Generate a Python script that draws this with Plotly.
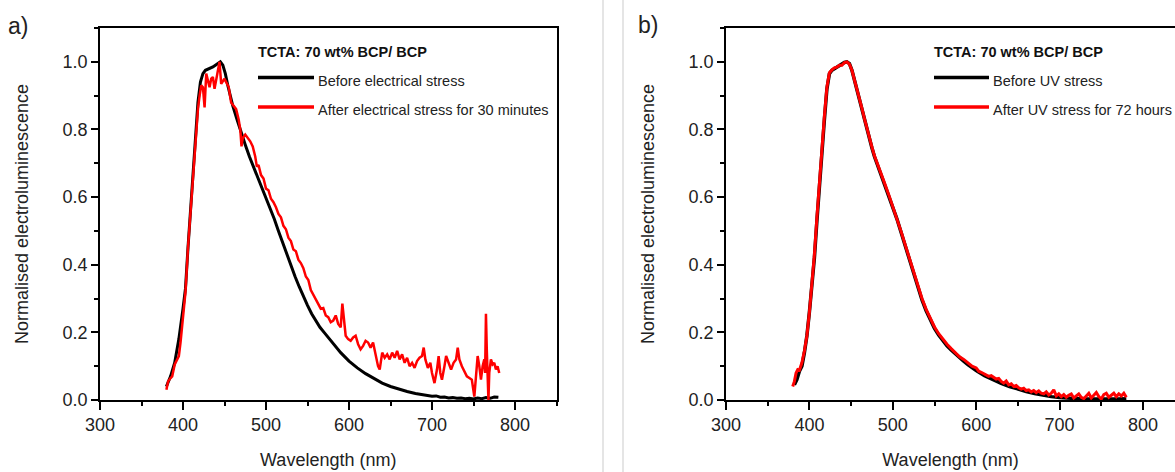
import plotly.graph_objects as go

# ---------------- data ----------------
# Panel a: TCTA:70 wt% BCP / BCP, electrical stress
wl_a_before = [380, 385, 390, 395, 400, 403, 406, 409, 412, 415, 418, 421, 424, 427, 430, 433, 436, 439,
               442, 445, 448, 451, 454, 457, 460, 465, 470, 475, 480, 485, 490, 495, 500, 505, 510, 515,
               520, 525, 530, 535, 540, 545, 550, 555, 560, 565, 570, 575, 580, 590, 600, 610, 620, 630,
               640, 650, 660, 670, 680, 690, 700, 705, 710, 715, 720, 725, 730, 735, 740, 745, 750, 755,
               760, 765, 770, 775, 780]
el_a_before = [0.04, 0.07, 0.11, 0.18, 0.27, 0.33, 0.45, 0.56, 0.66, 0.77, 0.88, 0.94, 0.965, 0.975, 0.978,
               0.982, 0.985, 0.99, 0.995, 1.0, 0.99, 0.965, 0.93, 0.90, 0.87, 0.83, 0.79, 0.755, 0.72, 0.69,
               0.66, 0.625, 0.595, 0.565, 0.535, 0.50, 0.465, 0.43, 0.40, 0.365, 0.335, 0.305, 0.28, 0.255,
               0.235, 0.215, 0.20, 0.185, 0.17, 0.14, 0.115, 0.095, 0.078, 0.063, 0.05, 0.04, 0.032, 0.025,
               0.019, 0.014, 0.011, 0.012, 0.008, 0.009, 0.006, 0.007, 0.005, 0.006, 0.004, 0.005, 0.003,
               0.006, 0.004, 0.007, 0.005, 0.009, 0.008]

wl_a_after = [380, 382, 385, 387, 390, 392, 395, 397, 400, 403, 406, 409, 412, 415, 418, 420, 422, 424, 426,
              428, 430, 432, 434, 436, 438, 440, 442, 444, 446, 448, 450, 452, 455, 458, 461, 464, 467, 469,
              470.5, 472, 475, 478, 481, 484, 487, 489, 491, 494, 497, 500, 503, 506, 509, 512, 515, 518,
              521, 524, 527, 530, 533, 536, 539, 542, 545, 548, 551, 554, 557, 560, 563, 566, 569, 572, 575,
              578, 581, 584, 587, 590, 592, 594, 596, 599, 602, 605, 608, 611, 614, 617, 620, 623, 626, 629,
              632, 635, 637, 640, 643, 646, 649, 652, 655, 658, 661, 664, 667, 670, 673, 676, 679, 682, 685,
              688, 690, 692, 695, 698, 700, 703, 706, 708, 710, 712, 715, 717, 720, 723, 726, 729, 731, 733,
              736, 739, 742, 745, 748, 751, 753, 755, 757, 759, 761, 763, 764, 765, 766, 767, 768, 769, 771,
              773, 775, 777, 779, 781]
el_a_after = [0.03, 0.055, 0.065, 0.07, 0.105, 0.115, 0.13, 0.17, 0.25, 0.32, 0.45, 0.56, 0.67, 0.77, 0.86,
              0.90, 0.93, 0.925, 0.865, 0.965, 0.94, 0.925, 0.95, 0.955, 0.92, 0.95, 0.975, 1.0, 0.935, 0.945,
              0.95, 0.94, 0.926, 0.88, 0.87, 0.86, 0.83, 0.80, 0.75, 0.775, 0.785, 0.776, 0.765, 0.75, 0.72,
              0.69, 0.695, 0.665, 0.655, 0.625, 0.62, 0.595, 0.585, 0.57, 0.55, 0.54, 0.515, 0.505, 0.48, 0.47,
              0.445, 0.44, 0.415, 0.405, 0.39, 0.365, 0.355, 0.325, 0.31, 0.295, 0.28, 0.27, 0.272, 0.25, 0.245,
              0.23, 0.235, 0.25, 0.225, 0.215, 0.285, 0.23, 0.19, 0.18, 0.175, 0.185, 0.19, 0.165, 0.15, 0.16,
              0.175, 0.17, 0.155, 0.17, 0.13, 0.10, 0.09, 0.14, 0.125, 0.135, 0.12, 0.14, 0.125, 0.145, 0.12,
              0.135, 0.11, 0.125, 0.10, 0.11, 0.095, 0.115, 0.125, 0.13, 0.155, 0.12, 0.095, 0.11, 0.08, 0.05,
              0.09, 0.13, 0.08, 0.06, 0.10, 0.13, 0.11, 0.09, 0.11, 0.12, 0.155, 0.12, 0.10, 0.085, 0.07, 0.065,
              0.06, 0.01, 0.08, 0.13, 0.10, 0.06, 0.10, 0.12, 0.08, 0.255, 0.15, 0.02, 0.0, 0.08, 0.12, 0.105,
              0.11, 0.09, 0.10, 0.08]

# Panel b: UV stress
wl_b_before = [382, 385, 388, 391, 394, 397, 400, 403, 406, 409, 412, 415, 418, 421, 424, 427, 430, 433, 436,
               439, 442, 445, 448, 451, 454, 457, 460, 463, 466, 469, 472, 475, 478, 481, 484, 487, 490, 495,
               500, 505, 510, 515, 520, 525, 530, 535, 540, 545, 550, 555, 560, 565, 570, 575, 580, 585, 590,
               595, 600, 610, 620, 630, 640, 650, 660, 670, 680, 690, 700, 710, 720, 730, 740, 750, 760, 770,
               780]
el_b_before = [0.045, 0.06, 0.085, 0.10, 0.14, 0.19, 0.26, 0.33, 0.42, 0.53, 0.64, 0.74, 0.83, 0.92, 0.965,
               0.975, 0.98, 0.985, 0.99, 0.992, 0.998, 1.0, 0.995, 0.975, 0.945, 0.915, 0.885, 0.86, 0.83,
               0.80, 0.775, 0.745, 0.72, 0.70, 0.68, 0.66, 0.64, 0.605, 0.57, 0.535, 0.495, 0.455, 0.415,
               0.372, 0.332, 0.296, 0.264, 0.236, 0.212, 0.192, 0.175, 0.16, 0.148, 0.136, 0.125, 0.115, 0.105,
               0.095, 0.087, 0.072, 0.06, 0.049, 0.04, 0.032, 0.025, 0.019, 0.014, 0.01, 0.007, 0.005, 0.004,
               0.003, 0.003, 0.002, 0.003, 0.003, 0.004]

wl_b_after = [380, 382, 384, 386, 388, 391, 394, 397, 400, 403, 406, 409, 412, 415, 418, 421, 424, 427, 430,
              433, 436, 439, 442, 445, 448, 451, 454, 457, 460, 463, 466, 469, 472, 475, 478, 481, 484, 487,
              490, 495, 500, 505, 510, 515, 520, 525, 530, 535, 540, 545, 550, 555, 560, 565, 570, 575, 580,
              585, 590, 595, 600, 603, 606, 609, 612, 615, 618, 621, 624, 627, 630, 633, 636, 639, 642, 645,
              648, 651, 654, 657, 660, 663, 666, 669, 672, 675, 678, 681, 684, 687, 690, 693, 696, 699, 702,
              705, 708, 711, 714, 717, 720, 723, 726, 729, 732, 735, 738, 741, 744, 747, 750, 753, 756, 759,
              762, 765, 768, 771, 774, 777, 780]
el_b_after = [0.04, 0.055, 0.08, 0.09, 0.088, 0.11, 0.145, 0.19, 0.26, 0.335, 0.43, 0.54, 0.65, 0.75, 0.84,
              0.925, 0.968, 0.976, 0.982, 0.984, 0.99, 0.99, 0.998, 1.0, 0.993, 0.975, 0.948, 0.918, 0.888,
              0.862, 0.832, 0.802, 0.778, 0.748, 0.722, 0.703, 0.682, 0.662, 0.642, 0.608, 0.572, 0.538,
              0.498, 0.458, 0.418, 0.376, 0.336, 0.3, 0.268, 0.242, 0.216, 0.196, 0.18, 0.165, 0.152, 0.14,
              0.128, 0.12, 0.11, 0.10, 0.095, 0.085, 0.082, 0.078, 0.075, 0.07, 0.072, 0.066, 0.062, 0.064,
              0.055, 0.05, 0.056, 0.045, 0.048, 0.04, 0.043, 0.036, 0.032, 0.035, 0.028, 0.03, 0.024, 0.028,
              0.022, 0.027, 0.02, 0.018, 0.024, 0.015, 0.02, 0.03, 0.012, 0.018, 0.01, 0.016, 0.008, 0.014,
              0.018, 0.006, 0.012, 0.018, 0.008, 0.004, 0.012, 0.02, 0.006, 0.014, 0.022, 0.01, 0.003, 0.016,
              0.02, 0.008, 0.015, 0.02, 0.01, 0.018, 0.012, 0.02, 0.008]

legend_title = "TCTA: 70 wt% BCP/ BCP"
legend_a = ["Before electrical stress", "After electrical stress for 30 minutes"]
legend_b = ["Before UV stress", "After UV stress for 72 hours"]
panel_labels = ["a)", "b)"]
x_title = "Wavelength (nm)"
y_title = "Normalised electroluminescence"

# ---------------- figure ----------------
W, H = 1175, 472
FONT = "Liberation Sans, Arial, sans-serif"
BLACK, RED = "#000000", "#ff0000"

fig = go.Figure()
fig.add_trace(go.Scatter(x=wl_a_before, y=el_a_before, mode="lines", name=legend_a[0],
                         line=dict(color=BLACK, width=3), xaxis="x", yaxis="y"))
fig.add_trace(go.Scatter(x=wl_a_after, y=el_a_after, mode="lines", name=legend_a[1],
                         line=dict(color=RED, width=2.5), xaxis="x", yaxis="y"))
fig.add_trace(go.Scatter(x=wl_b_before, y=el_b_before, mode="lines", name=legend_b[0],
                         line=dict(color=BLACK, width=3.5), xaxis="x2", yaxis="y2"))
fig.add_trace(go.Scatter(x=wl_b_after, y=el_b_after, mode="lines", name=legend_b[1],
                         line=dict(color=RED, width=3), xaxis="x2", yaxis="y2"))

ydom = [72 / H, 444 / H]
axis_common = dict(showline=True, linecolor=BLACK, linewidth=1.5, ticks="outside", tickcolor=BLACK,
                   tickwidth=1.5, showgrid=False, zeroline=False, automargin=False,
                   tickfont=dict(family=FONT, size=18, color="#222"))

xa = dict(axis_common, range=[300, 850], dtick=100, tick0=0, ticklen=8,
          minor=dict(ticks="outside", ticklen=4.5, dtick=50, tickwidth=1.5, tickcolor=BLACK),
          title=dict(text=x_title, font=dict(family=FONT, size=18, color="#222"), standoff=19))
ya = dict(axis_common, range=[0, 1.1], dtick=0.2, tick0=0, tickformat=".1f", ticklen=7,
          minor=dict(ticks="outside", ticklen=4, dtick=0.1, tickwidth=1.5, tickcolor=BLACK),
          title=dict(text=y_title, font=dict(family=FONT, size=18, color="#222"), standoff=29),
          domain=ydom)

fig.update_layout(
    width=W, height=H,
    margin=dict(l=0, r=0, t=0, b=0),
    paper_bgcolor="white", plot_bgcolor="white",
    showlegend=False,
    font=dict(family=FONT, color="#222"),
    xaxis=dict(xa, domain=[100 / W, 556.5 / W], anchor="y", mirror=True),
    yaxis=dict(ya, anchor="x", mirror=True),
    xaxis2=dict(xa, domain=[726 / W, 1.0], range=[300, 300 + (W - 726) / 0.834], anchor="y2", mirror=True),
    yaxis2=dict(ya, anchor="x2", mirror=False),
)

def fx(px):
    return px / W

def fy(py):
    return 1 - py / H

shapes = []
annotations = []
# separators between panels
for sx in (603, 623):
    shapes.append(dict(type="line", xref="paper", yref="paper", x0=fx(sx), x1=fx(sx), y0=0, y1=1,
                       line=dict(color="#dddddd", width=1.5)))

# panel labels
annotations.append(dict(text=panel_labels[0], x=fx(6), y=fy(26), xref="paper", yref="paper",
                        xanchor="left", yanchor="middle", showarrow=False,
                        font=dict(family=FONT, size=23, color="#222")))
annotations.append(dict(text=panel_labels[1], x=fx(636), y=fy(25), xref="paper", yref="paper",
                        xanchor="left", yanchor="middle", showarrow=False,
                        font=dict(family=FONT, size=23, color="#222")))

# in-plot legends
for (lx0, lx1, tx, labels) in ((258, 314, 316, legend_a), (934, 989, 991, legend_b)):
    annotations.append(dict(text="<b>" + legend_title + "</b>", x=fx(lx0 - 2), y=fy(52.5), xref="paper",
                            yref="paper", xanchor="left", yanchor="middle", showarrow=False,
                            font=dict(family=FONT, size=14.5, color="#111")))
    for ly, col, lab in ((77.5, BLACK, labels[0]), (107, RED, labels[1])):
        shapes.append(dict(type="line", xref="paper", yref="paper", x0=fx(lx0), x1=fx(lx1),
                           y0=fy(ly), y1=fy(ly), line=dict(color=col, width=3.5)))
        annotations.append(dict(text=lab, x=fx(tx), y=fy(ly + 3), xref="paper", yref="paper",
                                xanchor="left", yanchor="middle", showarrow=False,
                                font=dict(family=FONT, size=14.5, color="#222")))

fig.update_layout(shapes=shapes, annotations=annotations)
fig.write_html("out.html", config={"displayModeBar": False},
               post_script="document.body.style.margin='0';document.body.style.overflow='hidden';")
